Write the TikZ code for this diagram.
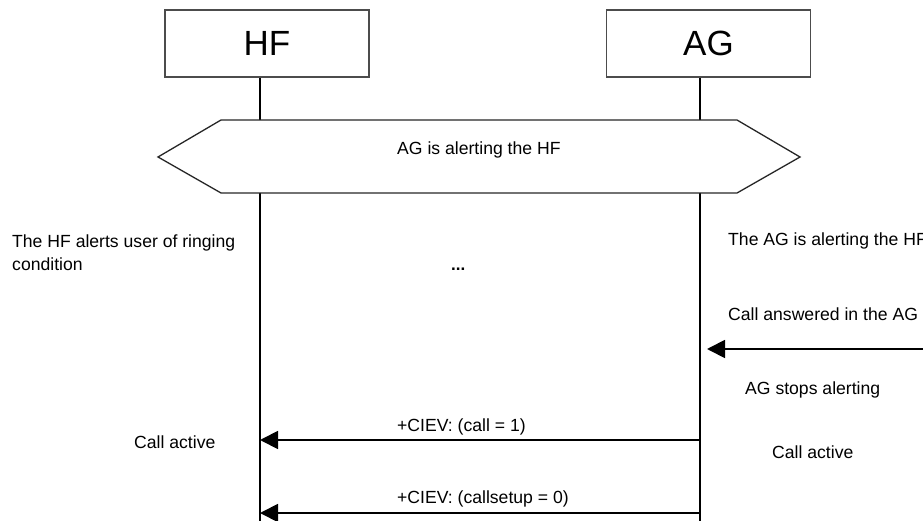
\documentclass[tikz,border=0pt]{standalone}
\usepackage{fontspec}
\setmainfont{Liberation Sans}
\usetikzlibrary{arrows.meta}
\begin{document}
\begin{tikzpicture}[x=1pt,y=-1pt,
  entity/.style={draw=black!70,line width=1.3pt,minimum width=204pt,minimum height=67pt,inner sep=0pt,font=\fontsize{35}{38}\selectfont},
  life/.style={line width=1.8pt,black},
  msg/.style={line width=1.8pt,black,-{Triangle[length=18pt,width=18pt]}},
  txt/.style={font=\fontsize{17.6}{23}\selectfont,inner sep=0pt,anchor=base west,align=left}]
\useasboundingbox (0,0) rectangle (923,521);
% entities
\node[entity] (hf) at (267,43.5) {HF};
\node[entity] (ag) at (708.5,43.5) {AG};
% lifeline coordinates
\coordinate (hfA) at (260,120);
\coordinate (hfB) at (260,193);
\coordinate (hfE) at (260,521);
\coordinate (agA) at (700,120);
\coordinate (agB) at (700,193);
\coordinate (agE) at (700,521);
\draw[life] (hf.south -| hfA) -- (hfA);
\draw[life] (ag.south -| agA) -- (agA);
\draw[life] (hfB) -- (hfE);
\draw[life] (agB) -- (agE);
% hexagon
\draw[line width=1.3pt,black!85] (221,120) -- (737,120) -- (800,157) -- (737,193) -- (221,193) -- (158,157) -- cycle;
\node[txt] (alert) at (397,155) {AG is alerting the HF};
% side texts
\node[txt] (hfring) at (12,271) {The HF alerts user of ringing\\condition};
\node[txt,font=\bfseries\fontsize{17}{20}\selectfont] (dots) at (451,270) {...};
\node[txt] (agring) at (728,246) {The AG is alerting the HF};
\node[txt] (answ) at (728,320) {Call answered in the AG};
\node[txt] (stops) at (745,394) {AG stops alerting};
\node[txt] (actR) at (772,458) {Call active};
\node[txt] (actL) at (134,448) {Call active};
% messages
\coordinate (ext) at (923,349);
\coordinate (agIn) at (707,349);
\draw[msg] (ext) -- (agIn);
\coordinate (m1s) at (700,440);
\coordinate (m1e) at (260,440);
\draw[msg] (m1s) -- (m1e);
\node[txt] (l1) at (397,431) {+CIEV: (call = 1)};
\coordinate (m2s) at (700,513);
\coordinate (m2e) at (260,513);
\draw[msg] (m2s) -- (m2e);
\node[txt] (l2) at (397,503) {+CIEV: (callsetup = 0)};
\end{tikzpicture}
\end{document}
